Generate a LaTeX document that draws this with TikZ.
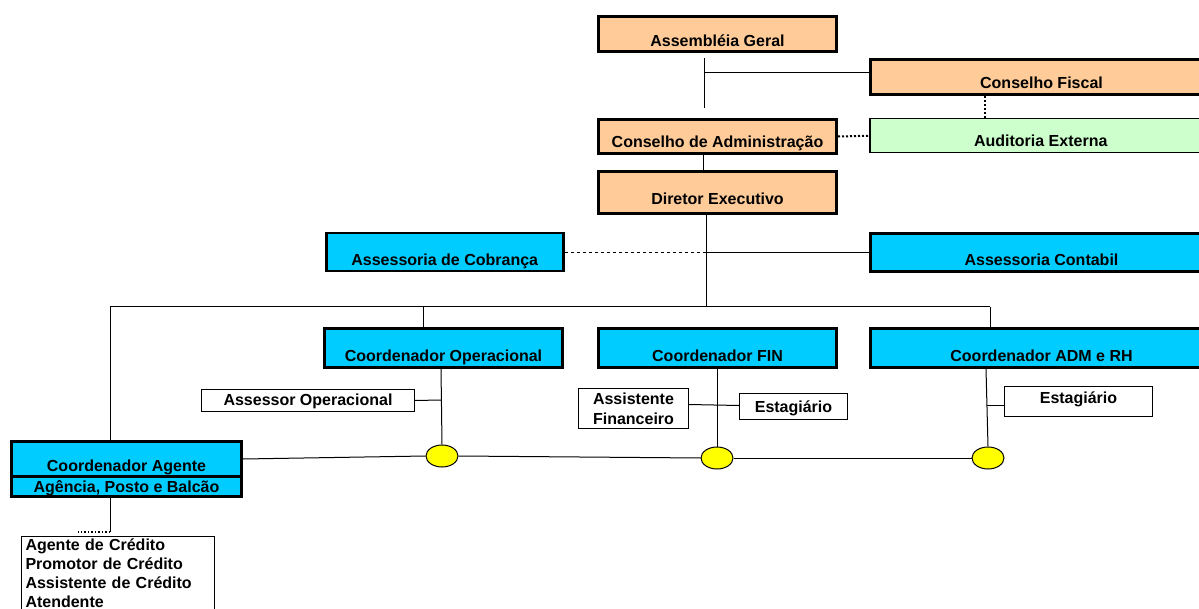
\documentclass[tikz,border=0pt]{standalone}
\usepackage{fontspec}
\setmainfont{Liberation Sans}
\usetikzlibrary{calc,shapes.geometric}
\definecolor{peach}{HTML}{FFCC99}
\definecolor{mint}{HTML}{CCFFCC}
\definecolor{skyb}{HTML}{00CCFF}
\definecolor{yel}{HTML}{FFFF00}
\begin{document}
\begin{tikzpicture}[x=1pt,y=-1pt,
  box/.style={draw, line width=3pt, inner sep=0pt, anchor=north west, font=\fontsize{16}{19}\selectfont\bfseries},
  thinbox/.style={draw, line width=1pt, inner sep=0pt, anchor=north west, fill=white, font=\fontsize{16}{19}\selectfont\bfseries},
  conn/.style={line width=1pt},
  dotl/.style={line width=2pt, dotted},
  hub/.style={ellipse, draw, fill=yel, line width=1pt, minimum width=32pt, minimum height=22pt, inner sep=0pt}
]
\useasboundingbox (0,0) rectangle (1199,609);
\fill[white] (0,0) rectangle (1199,609);
\clip (0,0) rectangle (1199,609);

% boxes
\node[box, fill=peach, minimum width=238pt, text height=30pt, text depth=5pt] (AG) at (597,15) {Assembléia Geral};
\node[box, fill=peach, minimum width=342pt, text height=29pt, text depth=6pt] (CF) at (869,58) {Conselho Fiscal};
\node[box, fill=peach, minimum width=238pt, text height=28pt, text depth=6pt] (CA) at (597,118) {Conselho de Administração};
\node[box, fill=mint, line width=1.5pt, minimum width=342pt, text height=28pt, text depth=6pt] (AE) at (869,118) {Auditoria Externa};
\node[box, fill=peach, minimum width=238pt, text height=33pt, text depth=9pt] (DE) at (597,170) {Diretor Executivo};
\node[box, fill=skyb, line width=2.5pt, minimum width=237pt, text height=32pt, text depth=6pt] (AC) at (325,232) {Assessoria de Cobrança};
\node[box, fill=skyb, minimum width=342pt, text height=32pt, text depth=6pt] (ACont) at (869,232) {Assessoria Contabil};
\node[box, fill=skyb, minimum width=238pt, text height=33pt, text depth=6pt] (CO) at (323,327) {Coordenador Operacional};
\node[box, fill=skyb, minimum width=238pt, text height=33pt, text depth=6pt] (CFIN) at (597,327) {Coordenador FIN};
\node[box, fill=skyb, minimum width=342pt, text height=33pt, text depth=6pt] (CADM) at (869,327) {Coordenador ADM e RH};
\node[thinbox, minimum width=213pt, text height=16pt, text depth=6pt] (AsOp) at (201,389) {Assessor Operacional};
\node[thinbox, minimum width=110pt, minimum height=40pt, align=center] (AsFin) at (578,388) {Assistente\\[1pt]Financeiro};
\node[thinbox, minimum width=108pt, text height=19pt, text depth=7pt] (Est1) at (739,393) {Estagiário};
\node[thinbox, minimum width=148pt, text height=17pt, text depth=13pt] (Est2) at (1004,386) {Estagiário};
\node[box, fill=skyb, minimum width=230pt, text height=30pt, text depth=5pt] (CAg) at (10,440) {Coordenador Agente};
\node[box, fill=skyb, minimum width=230pt, text height=16pt, text depth=4pt] (APB) at (10,475) {Agência, Posto e Balcão};
\node[thinbox, text width=185pt, inner xsep=4pt, inner ysep=2pt, align=left] (List) at (21,536)
  {Agente de Crédito\\Promotor de Crédito\\Assistente de Crédito\\Atendente};

\node[hub] (E1) at (442,456) {};
\node[hub] (E2) at (717,458) {};
\node[hub] (E3) at (988,458) {};

% connectors
\coordinate (j1) at (704,73);
\draw[conn] ($(AG.south west)+(107,5)$) -- ($(CA.north west)+(107,-10)$);
\draw[conn] (j1) -- (j1 -| CF.west);
\draw[conn] ($(CA.south west)+(106,0)$) -- ($(DE.north west)+(106,0)$);
\draw[dotl] (CA.east) -- (AE.west);
\draw[dotl] ($(CF.south west)+(116,0)$) -- ($(AE.north west)+(116,0)$);

\coordinate (bus) at (706,307);
\coordinate (jd) at (AC.east -| bus);
\draw[conn] ($(DE.south west)+(109,0)$) -- (bus);
\draw[conn, dashed] (AC.east) -- (jd);
\draw[conn] (jd) -- (jd -| ACont.west);

\coordinate (bl) at (110,307);
\coordinate (br) at (990,307);
\coordinate (bo) at (423,307);
\draw[conn] (bl) -- (br);
\draw[conn] (bl) -- (bl |- CAg.north);
\draw[conn] (bo) -- (bo |- CO.north);
\draw[conn] (br) -- (br |- CADM.north);

\draw[conn] ($(CO.south west)+(118,0)$) -- (E1.north);
\coordinate (jo) at (441,400);
\draw[conn] (AsOp.east) -- (jo);
\draw[conn] ($(CFIN.south west)+(120,0)$) -- (E2.north);
\draw[conn] ($(AsFin.east)+(0,-4)$) -- ($(Est1.west)+(0,-1)$);
\draw[conn] ($(CADM.south west)+(117,0)$) -- (E3.north);
\draw[conn] ($(Est2.west)+(-17,4)$) -- ($(Est2.west)+(0,4)$);

\draw[conn] (CAg.east) -- (E1.west);
\draw[conn] (E1.east) -- (E2.west);
\draw[conn] (E2.east) -- (E3.west);

\draw[conn] ($(APB.south west)+(100,0)$) -- ($(List.north west)+(89,-4)$);
\draw[line width=1.5pt, dotted] ($(List.north west)+(89,-4)$) -- ($(List.north west)+(57,-4)$);
\end{tikzpicture}
\end{document}
